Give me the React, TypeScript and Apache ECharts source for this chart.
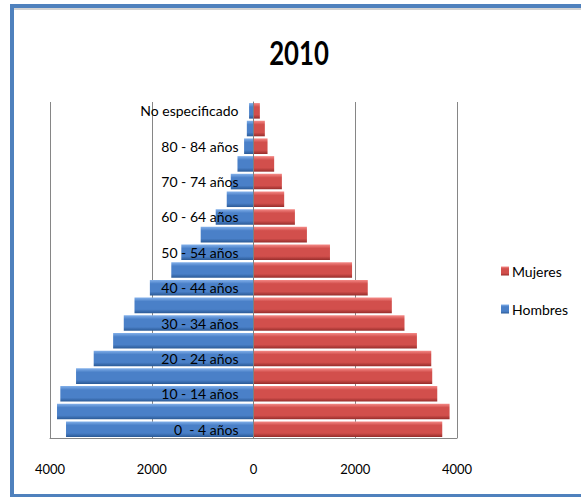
import React, { useEffect, useRef } from "react";
import * as echarts from "echarts";

const title = "2010";
const categories = [
  "0  - 4 años", "5 - 9 años", "10 - 14 años", "15 - 19 años", "20 - 24 años",
  "25 - 29 años", "30 - 34 años", "35 - 39 años", "40 - 44 años", "45 - 49 años",
  "50 - 54 años", "55 - 59 años", "60 - 64 años", "65 - 69 años", "70 - 74 años",
  "75 - 79 años", "80 - 84 años", "85 años y más", "No especificado",
];
const hombres = [3685, 3862, 3797, 3488, 3141, 2759, 2550, 2339, 2037, 1616, 1419, 1038, 743, 526, 447, 315, 185, 131, 87];
const mujeres = [3710, 3854, 3612, 3513, 3494, 3212, 2968, 2719, 2246, 1937, 1503, 1050, 814, 603, 558, 406, 276, 223, 125];
const xMin = -4000;
const xMax = 4000;
const xInterval = 2000;

const FONT = "Lato, 'Open Sans', sans-serif";

const GRID_LEFT = 50;
const GRID_RIGHT = 124;
const GRID_W = 581 - GRID_LEFT - GRID_RIGHT;

const grad = (top: string, mid: string, bot: string) =>
  new echarts.graphic.LinearGradient(0, 0, 0, 1, [
    { offset: 0, color: top },
    { offset: 0.25, color: mid },
    { offset: 0.75, color: mid },
    { offset: 1, color: bot },
  ]);

export default function App() {
  const ref = useRef<HTMLDivElement>(null);
  useEffect(() => {
    if (!ref.current) return;
    const chart = echarts.init(ref.current, null, { renderer: "svg" });
    chart.setOption({
      animation: false,
      backgroundColor: "#ffffff",
      graphic: [
        {
          type: "rect",
          shape: { x: 12, y: 6, width: 600, height: 490 },
          style: { fill: "none", stroke: "#4f81bd", lineWidth: 4 },
          z: 100,
        },
        {
          type: "line",
          shape: { x1: 14, y1: 9, x2: 581, y2: 9 },
          style: { stroke: "#a6a6a6", lineWidth: 1.2 },
          z: 100,
        },
        {
          type: "text",
          x: 299,
          y: 52,
          scaleX: 0.78,
          style: {
            text: title,
            font: `bold 33px ${FONT}`,
            fill: "#000000",
            textAlign: "center",
            textVerticalAlign: "middle",
          },
        },
      ],
      legend: {
        data: ["Mujeres", "Hombres"],
        orient: "vertical",
        left: 496,
        top: 259,
        itemWidth: 8,
        itemHeight: 9,
        itemGap: 24,
        icon: "rect",
        textStyle: { fontFamily: FONT, fontSize: 14, color: "#000", padding: [0, 0, 0, -2] },
      },
      grid: {
        left: GRID_LEFT,
        right: GRID_RIGHT,
        top: 102,
        bottom: 59,
        containLabel: false,
        outerBoundsMode: "none",
      },
      xAxis: {
        type: "value",
        min: xMin,
        max: xMax,
        interval: xInterval,
        axisLine: { show: true, onZero: false, lineStyle: { color: "#868686", width: 1 } },
        axisTick: { show: false },
        splitLine: { show: true, lineStyle: { color: "#868686", width: 1 } },
        axisLabel: {
          margin: 24,
          fontFamily: FONT,
          fontSize: 13,
          color: "#000",
          formatter: (v: number) => String(Math.abs(v)),
        },
      },
      yAxis: {
        type: "category",
        data: categories,
        z: 10,
        position: "left",
        offset: -GRID_W / 2,
        axisLine: { show: true, onZero: false, lineStyle: { color: "#7f7f7f", width: 1 } },
        axisTick: { show: false },
        axisLabel: {
          interval: 1,
          margin: 15,
          fontFamily: FONT,
          fontSize: 14,
          color: "#000",
        },
      },
      series: [
        {
          name: "Mujeres",
          type: "bar",
          data: mujeres,
          barGap: "-100%",
          barCategoryGap: "12%",
          itemStyle: { color: grad("#f58a87", "#d24f4c", "#962d2b") },
        },
        {
          name: "Hombres",
          type: "bar",
          data: hombres.map((v) => -v),
          barGap: "-100%",
          barCategoryGap: "12%",
          itemStyle: { color: grad("#82b0ea", "#4a80c8", "#2b5a96") },
        },
      ],
    });
    return () => chart.dispose();
  }, []);
  return (
    <div
      ref={ref}
      style={{ position: "absolute", left: 0, top: 0, width: 581, height: 497 }}
    />
  );
}
